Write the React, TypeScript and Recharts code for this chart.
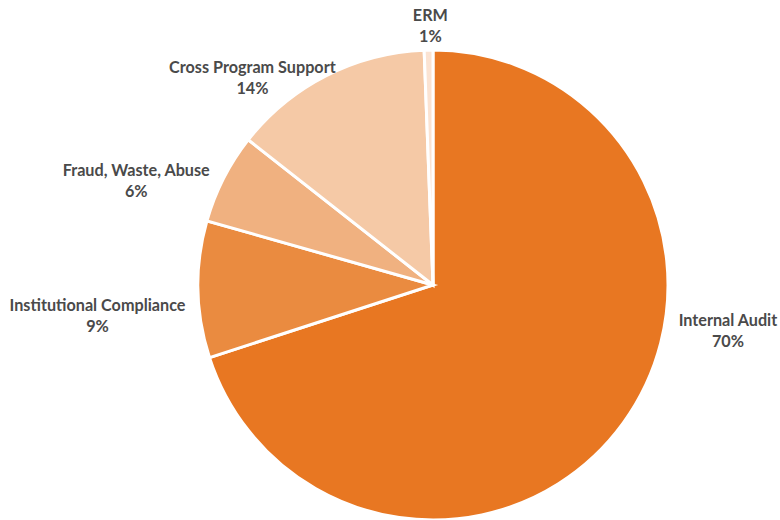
import React from "react";
import { PieChart, Pie, Cell } from "recharts";

const categories = [
  "Internal Audit",
  "Institutional Compliance",
  "Fraud, Waste, Abuse",
  "Cross Program Support",
  "ERM",
];
const shares = [70.0, 9.4, 6.2, 13.8, 0.6];
const colors = ["#E87722", "#EA8B40", "#F0B180", "#F5C9A6", "#FBE3D2"];

// label placement: angle clockwise from 12 o'clock (deg), distance as factor of outer radius
const labelLayout = [
  { angle: 99.9, dist: 1.274 },
  { angle: 263.8, dist: 1.436 },
  { angle: 288.4, dist: 1.331 },
  { angle: 318.2, dist: 1.153 },
  { angle: 359.4, dist: 1.079 },
];

const data = categories.map((name, i) => ({ name, value: shares[i] }));

const renderLabel = (props: any) => {
  const { cx, cy, outerRadius, index, percent } = props;
  const lay = labelLayout[index];
  const rad = (lay.angle * Math.PI) / 180;
  const d = outerRadius * lay.dist;
  const x = cx + d * Math.sin(rad);
  const y = cy - d * Math.cos(rad);
  return (
    <text
      x={x}
      y={y}
      textAnchor="middle"
      fill="#4A4A4A"
      fontFamily="Lato, 'Open Sans', sans-serif"
      fontWeight={700}
      fontSize={16.2}
    >
      <tspan x={x} y={y - 10.5}>{categories[index]}</tspan>
      <tspan x={x} y={y + 10.5}>{`${Math.round(percent * 100)}%`}</tspan>
    </text>
  );
};

export default function App() {
  return (
    <div style={{ position: "absolute", left: 0, top: 0, width: 780, height: 520, background: "#fff" }}>
      <PieChart width={780} height={520} margin={{ top: 0, right: 0, bottom: 0, left: 0 }}>
        <Pie
          data={data}
          dataKey="value"
          nameKey="name"
          cx={433}
          cy={285}
          outerRadius={235}
          startAngle={90}
          endAngle={-270}
          stroke="#FFFFFF"
          strokeWidth={3}
          label={renderLabel}
          labelLine={false}
          isAnimationActive={false}
        >
          {data.map((_, i) => (
            <Cell key={i} fill={colors[i]} />
          ))}
        </Pie>
      </PieChart>
    </div>
  );
}
